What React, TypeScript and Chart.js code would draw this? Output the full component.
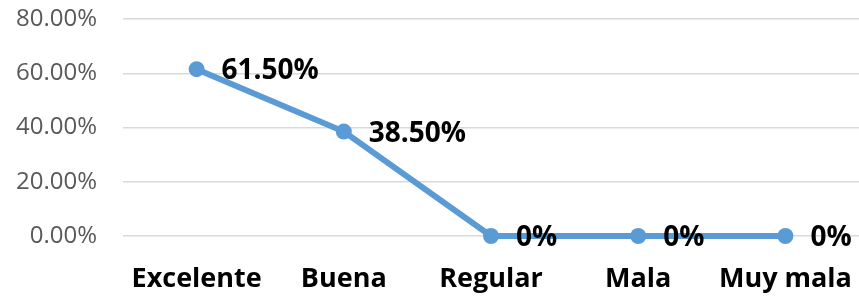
import React, { useEffect, useRef } from "react";
import { Chart, registerables } from "chart.js";

Chart.register(...registerables);

const categories = ["Excelente", "Buena", "Regular", "Mala", "Muy mala"];
const values = [61.5, 38.5, 0, 0, 0];
const yMax = 80;
const yStep = 20;

const FONT = "'Open Sans', 'Noto Sans', sans-serif";
const LINE_COLOR = "#5B9BD5";

const fmtLabel = (v: number) => (v === 0 ? "0%" : v.toFixed(2) + "%");

const dataLabelPlugin = {
  id: "dataLabels",
  afterDatasetsDraw(chart: any) {
    const ctx = chart.ctx;
    const meta = chart.getDatasetMeta(0);
    ctx.save();
    ctx.font = `bold 28px ${FONT}`;
    ctx.fillStyle = "#000000";
    ctx.textAlign = "left";
    ctx.textBaseline = "middle";
    meta.data.forEach((pt: any, i: number) => {
      ctx.fillText(fmtLabel(values[i]), pt.x + 25, pt.y + 2);
    });
    ctx.restore();
  },
};

export default function App() {
  const ref = useRef<HTMLCanvasElement | null>(null);
  useEffect(() => {
    if (!ref.current) return;
    const chart = new Chart(ref.current, {
      type: "line",
      data: {
        labels: categories,
        datasets: [
          {
            data: values,
            borderColor: LINE_COLOR,
            backgroundColor: LINE_COLOR,
            borderWidth: 6,
            pointRadius: 8,
            pointBorderWidth: 0,
            pointBackgroundColor: LINE_COLOR,
            tension: 0,
            fill: false,
            clip: false,
          },
        ],
      },
      options: {
        animation: false,
        responsive: false,
        maintainAspectRatio: false,
        layout: { autoPadding: false, padding: { top: 19, left: 0, right: 0, bottom: 0 } },
        plugins: {
          legend: { display: false },
          tooltip: { enabled: false },
        },
        scales: {
          x: {
            offset: true,
            grid: { display: false, drawTicks: false },
            border: { display: false },
            ticks: {
              color: "#000000",
              font: { family: FONT, size: 27, weight: "bold" },
              padding: 27,
              maxRotation: 0,
              autoSkip: false,
            },
            afterFit(scale: any) {
              scale.height = 60;
              scale.paddingLeft = 0;
              scale.paddingRight = 0;
            },
          },
          y: {
            min: 0,
            max: yMax,
            ticks: {
              stepSize: yStep,
              color: "#595959",
              font: { family: FONT, size: 24 },
              padding: 26,
              callback: (v: any) => Number(v).toFixed(2) + "%",
            },
            grid: { color: "#d9d9d9", lineWidth: 1.5, drawTicks: false },
            border: { display: false },
            afterFit(scale: any) {
              scale.width = 123;
              scale.paddingTop = 0;
              scale.paddingBottom = 0;
            },
          },
        },
      },
      plugins: [dataLabelPlugin],
    });
    return () => chart.destroy();
  }, []);
  return (
    <div style={{ position: "fixed", left: 0, top: 0, width: 859, height: 296, background: "#fff" }}>
      <canvas ref={ref} width={859} height={296} style={{ display: "block" }} />
    </div>
  );
}
